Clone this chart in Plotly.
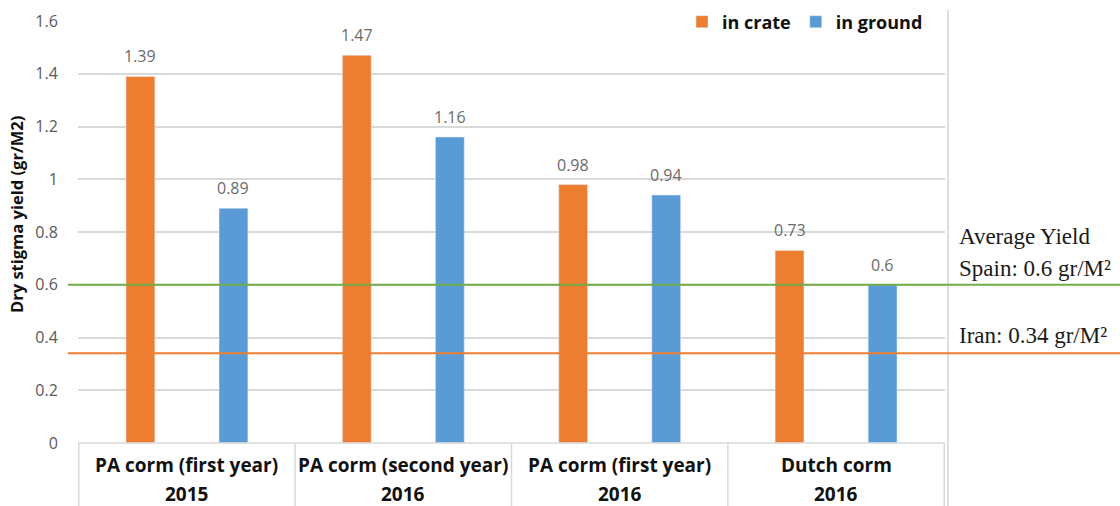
import plotly.graph_objects as go

# Data
CORMS = ["PA corm (first year)", "PA corm (second year)", "PA corm (first year)", "Dutch corm"]
YEARS = ["2015", "2016", "2016", "2016"]
IN_CRATE = [1.39, 1.47, 0.98, 0.73]
IN_GROUND = [0.89, 1.16, 0.94, 0.60]
Y_TICKS = [0, 0.2, 0.4, 0.6, 0.8, 1, 1.2, 1.4, 1.6]
Y_TICK_LABELS = ["0", "0.2", "0.4", "0.6", "0.8", "1", "1.2", "1.4", "1.6"]
SPAIN_AVG = 0.6
IRAN_AVG = 0.34

# Styling
ORANGE = "#ED7D31"
BLUE = "#5B9BD5"
GREEN = "#70AD47"
GRID = "#D9D9D9"
SANS = "Open Sans"
Y_MAX = 1.6
BAR_GAP = 0.14
BAR_GROUP_GAP = 0.69
W, H = 1120, 506
M_L, M_R, M_T, M_B = 78, 175, 21, 63
PLOT_W = W - M_L - M_R
PLOT_H = H - M_T - M_B

keys = [f"{c} {y}" for c, y in zip(CORMS, YEARS)]

fig = go.Figure()
fig.add_trace(go.Bar(name="in crate", x=keys, y=IN_CRATE, marker_color=ORANGE))
fig.add_trace(go.Bar(name="in ground", x=keys, y=IN_GROUND, marker_color=BLUE))


def px_x(px):
    return (px - M_L) / PLOT_W


def px_y(px):
    return (H - M_B - px) / PLOT_H


annotations = []
# value labels above each bar
slot = (1 - BAR_GAP) / 4
for i, (a, b) in enumerate(zip(IN_CRATE, IN_GROUND)):
    for xv, v in ((i - slot, a), (i + slot, b)):
        annotations.append(dict(
            x=xv, y=v, xref="x", yref="y", text=f"{v:g}", showarrow=False,
            yanchor="bottom", yshift=7,
            font=dict(family=SANS, size=16, color="#6b6b6b"),
        ))

# category table under the axis
cat_font = dict(family=SANS, size=19, color="#111111", weight="bold")
for i, (c, yr) in enumerate(zip(CORMS, YEARS)):
    annotations.append(dict(
        x=i, y=0, xref="x", yref="paper", text=c, showarrow=False,
        yanchor="middle", yshift=-22, font=cat_font,
    ))
    annotations.append(dict(
        x=i, y=0, xref="x", yref="paper", text=yr, showarrow=False,
        yanchor="middle", yshift=-51, font=cat_font,
    ))

# y-axis title, placed beside the tick labels
annotations.append(dict(
    x=px_x(16), y=px_y(215), xref="paper", yref="paper", text="Dry stigma yield (gr/M2)",
    showarrow=False, textangle=-90, xanchor="center", yanchor="middle",
    font=dict(family=SANS, size=16.5, color="#111111", weight="bold"),
))

# reference yield notes on the right
serif = dict(family="Liberation Serif", size=23, color="#1a1a1a")
annotations += [
    dict(x=px_x(957), y=px_y(237), xref="paper", yref="paper", text="Average Yield",
         showarrow=False, xanchor="left", yanchor="middle", font=serif),
    dict(x=px_x(957), y=px_y(268), xref="paper", yref="paper",
         text=f"Spain: {SPAIN_AVG:g} gr/M²",
         showarrow=False, xanchor="left", yanchor="middle", font=serif),
    dict(x=px_x(957), y=px_y(335), xref="paper", yref="paper",
         text=f"Iran: {IRAN_AVG:g} gr/M²",
         showarrow=False, xanchor="left", yanchor="middle", font=serif),
]

shapes = []
n = len(keys)
table_bottom = px_y(H)
# table top border and cell dividers
shapes.append(dict(type="line", xref="paper", yref="paper", x0=0, x1=1, y0=0, y1=0,
                   line=dict(color=GRID, width=1.5)))
for i in range(n + 1):
    shapes.append(dict(type="line", xref="x", yref="paper", x0=i - 0.5, x1=i - 0.5,
                       y0=0, y1=table_bottom, line=dict(color=GRID, width=1.5)))
# outer frame edge on the right
shapes.append(dict(type="line", xref="paper", yref="paper", x0=px_x(948), x1=px_x(948),
                   y0=px_y(10), y1=table_bottom, line=dict(color="#c8c8c8", width=1.2)))
# average yield reference lines
for val, col in ((SPAIN_AVG, GREEN), (IRAN_AVG, ORANGE)):
    shapes.append(dict(type="line", xref="paper", yref="paper", x0=px_x(68), x1=px_x(W),
                       y0=val / Y_MAX, y1=val / Y_MAX, layer="above",
                       line=dict(color=col, width=2)))

fig.update_layout(
    width=W, height=H,
    margin=dict(l=M_L, r=M_R, t=M_T, b=M_B, pad=0, autoexpand=False),
    paper_bgcolor="white", plot_bgcolor="white",
    barmode="group", bargap=BAR_GAP, bargroupgap=BAR_GROUP_GAP,
    showlegend=True,
    legend=dict(orientation="h", x=px_x(928), y=px_y(22), xanchor="right", yanchor="middle",
                bgcolor="white", font=dict(family=SANS, size=18, color="#111111", weight="bold"),
                itemwidth=30, traceorder="normal"),
    annotations=annotations,
    shapes=shapes,
    xaxis=dict(showticklabels=False, showgrid=False, zeroline=False, showline=False,
               ticks=""),
    yaxis=dict(range=[0, Y_MAX], tickvals=Y_TICKS, ticktext=Y_TICK_LABELS,
               showgrid=True, gridcolor=GRID, gridwidth=1.5, zeroline=False,
               showline=False, ticks="outside", ticklen=16, tickcolor="rgba(0,0,0,0)",
               tickfont=dict(family=SANS, size=16, color="#595959")),
)

fig.write_html("out.html")
